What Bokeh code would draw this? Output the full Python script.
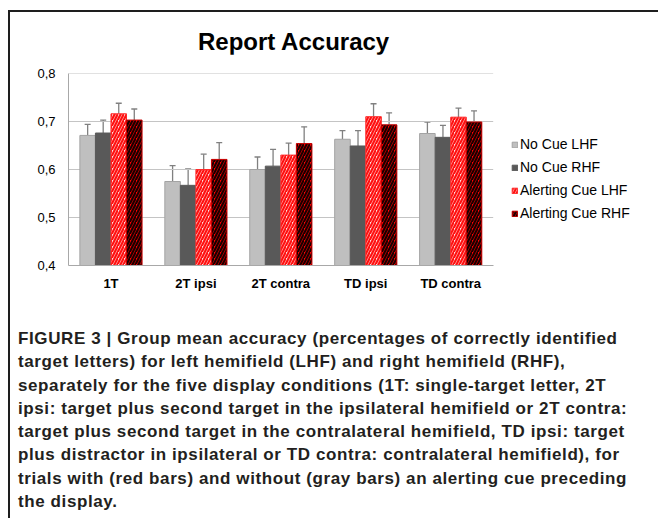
from bokeh.plotting import figure
from bokeh.models import (ColumnDataSource, Range1d, FixedTicker, CustomJSTickFormatter,
                          Whisker, TeeHead, Legend, LegendItem, Div)
from bokeh.layouts import column
from bokeh.embed import file_html
from bokeh.resources import INLINE

# ---- data ----
chart_title = "Report Accuracy"
categories = ["1T", "2T ipsi", "2T contra", "TD ipsi", "TD contra"]
series_names = ["No Cue LHF", "No Cue RHF", "Alerting Cue LHF", "Alerting Cue RHF"]
no_cue_lhf = [0.671, 0.575, 0.600, 0.663, 0.675]
no_cue_rhf = [0.676, 0.567, 0.607, 0.649, 0.667]
alert_lhf = [0.716, 0.600, 0.630, 0.710, 0.709]
alert_rhf = [0.703, 0.621, 0.654, 0.693, 0.699]
no_cue_lhf_err = [0.023, 0.033, 0.026, 0.018, 0.024]
no_cue_rhf_err = [0.027, 0.034, 0.035, 0.032, 0.025]
alert_lhf_err = [0.022, 0.032, 0.025, 0.027, 0.019]
alert_rhf_err = [0.023, 0.035, 0.035, 0.025, 0.023]
y_ticks = [0.4, 0.5, 0.6, 0.7, 0.8]

caption_lines = [
    "FIGURE 3 | Group mean accuracy (percentages of correctly identified",
    "target letters) for left hemifield (LHF) and right hemifield (RHF),",
    "separately for the five display conditions (1T: single-target letter, 2T",
    "ipsi: target plus second target in the ipsilateral hemifield or 2T contra:",
    "target plus second target in the contralateral hemifield, TD ipsi: target",
    "plus distractor in ipsilateral or TD contra: contralateral hemifield), for",
    "trials with (red bars) and without (gray bars) an alerting cue preceding",
    "the display.",
]

values = [no_cue_lhf, no_cue_rhf, alert_lhf, alert_rhf]
errors = [no_cue_lhf_err, no_cue_rhf_err, alert_lhf_err, alert_rhf_err]

FONT = "Liberation Sans"
n = len(categories)
centers = [i + 0.5 for i in range(n)]

title_div = Div(text=('<div style="padding-top:18px;padding-left:188px;line-height:24px;'
                      'font-size:24px;font-weight:bold;color:#000;white-space:nowrap;'
                      'font-family:\'Liberation Sans\'">' + chart_title + '</div>'),
                width=640, height=42, margin=0)

# frame spans the bar area plus an empty band on the right for the legend
p = figure(x_range=Range1d(0, 6.852), y_range=Range1d(y_ticks[0], y_ticks[-1]),
           width=640, height=268, output_backend="svg", toolbar_location=None,
           min_border_left=58, min_border_right=0, min_border_top=19, min_border_bottom=57)

p.outline_line_color = None
p.xgrid.visible = False
p.ygrid.visible = False
# horizontal gridlines limited to the bar area
p.segment(x0=0, x1=n, y0=y_ticks[1:], y1=y_ticks[1:], line_color="#c4c4c4", line_width=1)

p.yaxis.ticker = FixedTicker(ticks=y_ticks)
p.yaxis.formatter = CustomJSTickFormatter(code="return tick.toFixed(1).replace('.', ',');")
p.xaxis.ticker = FixedTicker(ticks=centers)
p.xaxis.formatter = CustomJSTickFormatter(args=dict(labels=categories),
                                          code="return labels[Math.floor(tick)];")
p.xaxis.bounds = (0, n)
for ax in (p.xaxis, p.yaxis):
    ax.axis_line_color = "#a8a8a8"
    ax.major_tick_line_color = None
    ax.minor_tick_line_color = None
    ax.major_tick_out = 0
    ax.major_tick_in = 0
    ax.major_label_text_font = FONT
    ax.major_label_text_color = "#000000"
p.yaxis.major_label_text_font_size = "13px"
p.yaxis.major_label_standoff = 13
p.xaxis.major_label_text_font_size = "13px"
p.xaxis.major_label_text_font_style = "bold"
p.xaxis.major_label_standoff = 10

offsets = [-0.2745, -0.0915, 0.0915, 0.2745]
bar_w = 0.183
styles = [
    dict(fill_color="#bfbfbf", line_color="#a3a3a3"),
    dict(fill_color="#595959", line_color="#595959"),
    dict(fill_color="#ffdcdc", line_color="#ff2a2a", hatch_pattern="/", hatch_color="#ff1010",
         hatch_scale=6, hatch_weight=2.2),
    dict(fill_color="#ff0000", line_color="#c80000", hatch_pattern="/", hatch_color="#1a0000",
         hatch_scale=6, hatch_weight=2.2),
]

items = []
for name, vals, errs, off, st in zip(series_names, values, errors, offsets, styles):
    src = ColumnDataSource(dict(x=[c + off for c in centers], val=vals,
                                top=[v + e for v, e in zip(vals, errs)]))
    r = p.vbar(x="x", top="val", bottom=y_ticks[0], width=bar_w,
               source=src, line_width=1, **st)
    w = Whisker(base="x", lower="val", upper="top", source=src,
                line_color="#808080", line_width=1.3, lower_head=None,
                upper_head=TeeHead(size=6, line_color="#808080", line_width=1.3))
    p.add_layout(w)
    items.append(LegendItem(label=name, renderers=[r]))

legend = Legend(items=items, location=(443, 42), glyph_width=7, glyph_height=7,
                label_standoff=2, label_height=20, spacing=3, padding=0, margin=0,
                border_line_color=None, background_fill_alpha=0,
                label_text_font=FONT, label_text_font_size="14px", label_text_color="#000000")
p.add_layout(legend, "center")

cap = Div(text="<br>".join(caption_lines), width=640,
          styles={"font-family": FONT, "font-weight": "bold", "font-size": "17px",
                  "letter-spacing": "0.6px",
                  "line-height": "23.3px", "color": "#231f20", "white-space": "nowrap",
                  "padding-left": "3px"})

layout = column(title_div, p, cap, margin=(10, 0, 0, 8),
                styles={"border-left": "2px solid #1e1e1e", "border-top": "2px solid #1e1e1e"})

open("out.html", "w").write(file_html(layout, INLINE))
